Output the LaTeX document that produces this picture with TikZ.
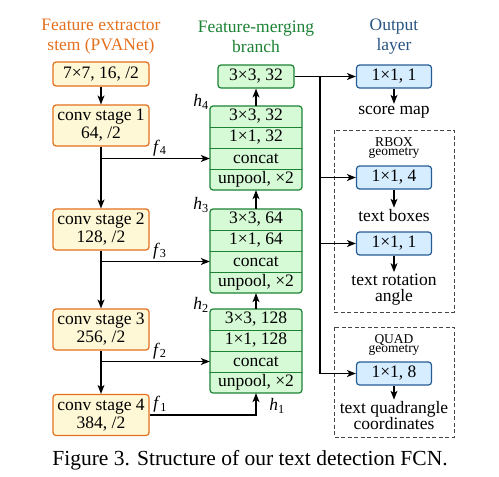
\documentclass[tikz,border=0pt]{standalone}
\usepackage{fontspec}
\setmainfont{Liberation Serif}
\usetikzlibrary{arrows.meta,positioning}

\definecolor{stemline}{RGB}{228,112,30}
\definecolor{stemfill}{RGB}{255,248,214}
\definecolor{mergeline}{RGB}{28,130,52}
\definecolor{mergefill}{RGB}{214,250,214}
\definecolor{outline}{RGB}{38,92,148}
\definecolor{outfill}{RGB}{214,236,255}
\definecolor{outtext}{RGB}{40,84,130}
\definecolor{dashgray}{RGB}{70,70,70}

\begin{document}
\begin{tikzpicture}[
			x=1pt,y=-1pt,
			every node/.style={font=\fontsize{17.5}{18}\selectfont,inner sep=2pt,align=center},
			stembox/.style={draw=stemline,fill=stemfill,line width=1.2pt,rounded corners=3pt,minimum width=96pt,minimum height=41pt,inner sep=0pt},
			mergebox/.style={draw=mergeline,fill=mergefill,line width=1.2pt,rounded corners=3pt,minimum width=76pt,minimum height=23pt,inner sep=0pt},
			mergerow/.style={minimum width=92pt,minimum height=21pt,inner sep=0pt},
			outbox/.style={draw=outline,fill=outfill,line width=1.2pt,rounded corners=3pt,minimum width=75pt,minimum height=23pt,inner sep=0pt},
			coltitle/.style={font=\fontsize{17.5}{20}\selectfont},
			smalltitle/.style={font=\fontsize{13.5}{11}\selectfont,inner sep=0pt,anchor=base},
			groupbox/.style={draw=dashgray,line width=0.9pt,dash pattern=on 4pt off 2.5pt},
			link/.style={-{Stealth[length=9pt,width=7pt,inset=2.5pt]},line width=1.1pt},
			wire/.style={line width=1.1pt}
			]

			\useasboundingbox (0,0) rectangle (499,477);

			\node[coltitle,text=stemline] (stemtitle) at (101,36.5) {Feature extractor\\stem (PVANet)};
			\node[coltitle,text=mergeline] (mergetitle) at (256,36.5) {Feature-merging\\branch};
			\node[coltitle,text=outtext] (outtitle) at (394,36.5) {Output\\layer};

			\node[stembox,minimum height=24pt] (conv0) at (101,74) {7×7, 16, /2};
			\node[stembox] (cs1) at (101,125.5) {conv stage 1\\64, /2};
			\node[stembox] (cs2) at (101,229.5) {conv stage 2\\128, /2};
			\node[stembox] (cs3) at (101,329.5) {conv stage 3\\256, /2};
			\node[stembox] (cs4) at (101,415) {conv stage 4\\384, /2};

			\draw[link] (conv0) -- (cs1);
			\draw[link] (cs1) -- (cs2);
			\draw[link] (cs2) -- (cs3);
			\draw[link] (cs3) -- (cs4);

			\foreach \n/\t/\c in {4/106/32,3/209/64,2/309/128}
				{
				\fill[mergefill,rounded corners=3pt] (210,\t) rectangle (302,\t+84);
				\node[mergerow] (m\n-a) at (256,\t+10.5) {3×3, \c};
				\node[mergerow] (m\n-b) at (256,\t+31.5) {1×1, \c};
				\node[mergerow] (m\n-c) at (256,\t+52.5) {concat};
				\node[mergerow] (m\n-d) at (256,\t+73.5) {unpool, ×2};
				\draw[mergeline,line width=1pt] (m\n-a.south west) -- (m\n-a.south east);
				\draw[mergeline,line width=1pt] (m\n-b.south west) -- (m\n-b.south east);
				\draw[mergeline,line width=1pt] (m\n-c.south west) -- (m\n-c.south east);
				\draw[mergeline,line width=1.2pt,rounded corners=3pt] (210,\t) rectangle (302,\t+84);
				\node (h\n) at (201,\t-4) {\textit{h}\textsubscript{\n}};
				}

			\node[mergebox] (mtop) at (256,76.5) {3×3, 32};

			\draw[link] (m2-a.north) -- (m3-d.south);
			\draw[link] (m3-a.north) -- (m4-d.south);
			\draw[link] (m4-a.north) -- (mtop.south);

			\coordinate (j4) at (cs1.south |- m4-c.west);
			\coordinate (j3) at (cs2.south |- m3-c.west);
			\coordinate (j2) at (cs3.south |- m2-c.west);
			\coordinate (k1) at (m2-d.south |- cs4.east);
			\draw[link] (j4) -- node[above,pos=0.54] {\textit{f}\textsubscript{4}} (m4-c.west);
			\draw[link] (j3) -- node[above,pos=0.54] {\textit{f}\textsubscript{3}} (m3-c.west);
			\draw[link] (j2) -- node[above,pos=0.54] {\textit{f}\textsubscript{2}} (m2-c.west);
			\draw[link] (cs4.east) -- node[above,pos=0.1] {\textit{f}\textsubscript{1}} (k1) -- (m2-d.south);
			\node (h1) at (277,406) {\textit{h}\textsubscript{1}};

			\node[outbox] (o1) at (394,76.5) {1×1, 1};
			\node[outbox] (o2) at (394,177.5) {1×1, 4};
			\node[outbox] (o3) at (394,243.5) {1×1, 1};
			\node[outbox] (o4) at (394,373.5) {1×1, 8};

			\node (score) at (394,112) {score map};
			\node (boxes) at (394,216) {text boxes};
			\node[font=\fontsize{17.5}{16}\selectfont] (angle) at (394,290) {text rotation\\angle};
			\node[font=\fontsize{17.5}{16}\selectfont] (quad) at (394,416) {text quadrangle\\coordinates};

			\draw[link] (o1) -- (score);
			\draw[link] (o2) -- (boxes);
			\draw[link] (o3) -- (angle);
			\draw[link] (o4) -- (quad);

			\draw[groupbox] (334,130) rectangle (454,312);
			\draw[groupbox] (334,327) rectangle (454,437);
			\node[smalltitle] (rbox) at (394,146.5) {RBOX};
			\node[smalltitle] (rboxgeo) at (394,155.5) {geometry};
			\node[smalltitle] (quadname) at (394,343.5) {QUAD};
			\node[smalltitle] (quadgeo) at (394,352.5) {geometry};

			\coordinate (bus) at (320,0);
			\draw[link] (mtop.east) -- (o1.west);
			\draw[wire] (bus |- mtop.east) -- (bus |- o4.west);
			\draw[link] (bus |- o2.west) -- (o2.west);
			\draw[link] (bus |- o3.west) -- (o3.west);
			\draw[link] (bus |- o4.west) -- (o4.west);

			\node[font=\fontsize{21.5}{24}\selectfont] (caption) at (250,460) {Figure 3. Structure of our text detection FCN.};

		\end{tikzpicture}
\end{document}
